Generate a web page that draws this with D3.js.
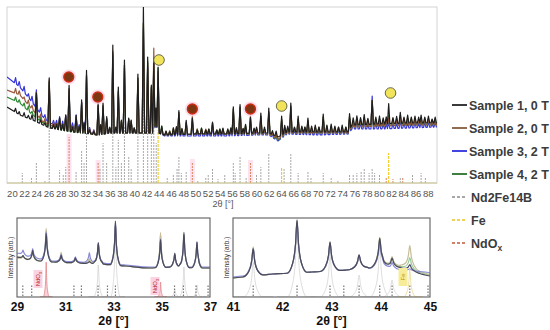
<!DOCTYPE html>
<html>
<head>
<meta charset="utf-8">
<script src="https://cdn.jsdelivr.net/npm/d3@7"></script>
<style>
  body { margin: 0; background: #fff; }
  svg { display: block; font-family: "Liberation Sans", Arial, sans-serif; }
</style>
</head>
<body>
<svg id="drawing_region"></svg>
<script>
// ---- main pattern data (2theta in degrees, intensity in arb. units) ----
const sampleNames = ['Sample 1, 0 T', 'Sample 2, 0 T', 'Sample 3, 2 T', 'Sample 4, 2 T'];
const refNames = ['Nd2Fe14B', 'Fe', 'NdO'];
const mainTicks = [20,22,24,26,28,30,32,34,36,38,40,42,44,46,48,50,52,54,56,58,60,62,64,66,68,70,72,74,76,78,80,82,84,86,88];

const bgPos = [19.2, 21.3, 23.4, 25.1, 26.2, 28, 30, 33, 34, 36, 44, 45, 50, 55, 60, 62, 63.5, 65, 70, 75, 75.6, 80, 85, 89.5];
const bgS1 = [76, 68, 63, 58, 55, 53, 51, 49, 48, 50, 50, 48, 49, 49, 50, 50, 46, 51, 51, 51, 58, 59, 60, 60];
const bgS2 = [93, 88, 73, 61, 58, 54, 52, 49, 48, 50, 50, 48, 49, 49, 49, 49, 44, 50, 50, 50, 56, 57, 58, 58];
const bgS3 = [106, 96, 80, 66, 60, 56, 55, 50, 48, 50, 50, 47, 47, 47, 48, 48, 42, 49, 48, 49, 54, 54, 55, 56];
const bgS4 = [86, 80, 68, 60, 56, 53, 51, 49, 48, 50, 50, 48, 49, 49, 49, 49, 43, 50, 50, 50, 56, 57, 58, 58];

const peakPos = [20.6,21.2,22.0,22.7,23.3,24.0,24.7,25.4,26.1,26.8,27.3,27.8,28.3,28.8,29.35,29.9,30.5,31.0,31.4,31.8,
  32.2,32.7,33.4,34.1,34.5,34.9,35.5,36.0,36.5,37.0,37.4,37.9,38.4,39.1,39.5,40.0,40.6,41.5,42.2,42.8,
  43.2,43.55,43.9,44.5,45.2,45.8,46.4,46.9,47.3,47.8,48.5,49.5,50.3,51.0,51.7,52.2,52.8,53.5,54.0,54.5,
  55.3,55.8,56.2,56.7,57.3,57.8,58.2,59.0,59.6,60.0,60.7,61.3,62.0,62.6,63.2,64.1,64.6,65.1,65.6,66.2,
  66.8,67.4,67.9,68.4,69.0,69.6,70.2,70.9,71.5,72.2,72.8,73.4,74.0,74.6,75.2,75.8,76.4,77.0,77.6,78.2,
  78.9,79.5,80.1,80.7,81.2,81.6,82.3,82.9,83.5,84.1,84.7,85.3,85.9,86.5,86.9,87.5,88.1,88.7,89.2];
const peakS1 = [4,3,4,3,5,29,4,3,50,4,5,12,6,16,46,5,17,6,33,10,
  63,4,3,32,10,31,17,6,88,6,46,13,73,15,13,5,59,126,76,48,
  70,25,66,8,4,3,7,8,24,6,14,16,4,6,4,5,12,4,5,6,
  5,6,27,6,29,5,9,16,5,6,20,6,25,4,5,19,8,6,29,5,
  16,6,5,14,6,7,5,18,7,8,6,5,7,5,16,7,9,7,10,6,
  24,7,8,6,7,20,6,7,11,6,8,6,7,6,8,6,7,4,6];
const peakS2 = [5,4,3,5,4,22,5,4,45,4,4,10,5,14,42,4,15,5,30,8,
  58,5,4,30,9,29,15,5,82,6,42,12,68,14,12,5,55,110,70,46,
  85,25,62,6,3,4,6,7,22,5,12,18,5,5,5,4,11,4,4,5,
  4,5,25,5,27,5,8,18,5,5,18,5,22,3,4,17,7,5,27,5,
  14,5,6,12,5,6,6,16,6,7,5,6,6,5,14,6,8,8,9,7,
  26,6,7,6,6,8,7,6,9,7,6,7,6,5,7,7,6,5,5];
const peakS3 = [6,5,6,4,6,18,6,4,40,4,5,10,6,12,38,5,14,5,28,9,
  55,5,4,28,8,27,14,5,78,5,40,11,65,13,11,5,52,105,66,44,
  72,22,60,6,4,3,5,6,20,5,11,14,4,5,4,4,10,5,4,5,
  5,5,24,5,25,4,8,14,4,5,17,5,21,3,4,16,6,5,25,4,
  13,5,5,12,5,5,5,15,6,7,5,5,6,5,13,6,8,6,8,5,
  33,6,6,5,5,7,5,6,8,5,6,5,6,5,6,5,6,4,5];
const peakS4 = [4,3,4,5,3,22,4,5,45,3,4,11,5,14,40,4,15,6,30,8,
  58,4,3,30,9,28,15,5,80,5,42,12,68,14,12,5,55,110,72,46,
  75,25,65,8,3,4,6,7,22,5,12,15,5,6,4,5,11,4,5,5,
  4,6,25,5,27,5,9,16,5,6,18,5,22,4,4,18,8,5,27,5,
  14,6,5,13,5,6,5,16,7,7,6,5,6,6,14,6,9,7,9,6,
  26,7,7,6,6,10,6,7,10,6,7,6,7,6,7,6,7,5,6];

// reference stick patterns [2theta, height]
const refNd2Fe14B = [[21.7,10],[23.2,6],[24.0,21],[25.4,3],[26.1,55],[27.8,13],[28.4,9],[28.8,16],[30.5,11],[31.4,33],
  [31.8,20],[32.2,50],[34.4,15],[34.9,40],[35.5,20],[36.5,73],[37.0,16],[37.4,43],[37.9,20],[38.4,56],[39.1,26],
  [39.5,15],[40.6,53],[41.5,85],[42.2,83],[42.8,50],[43.2,60],[43.6,40],[45.4,5],[46.4,8],[47.0,15],[47.3,26],
  [47.7,10],[48.5,11],[50.4,3],[51.7,5],[52.1,8],[52.8,15],[53.7,4],[54.8,8],[56.2,21],[56.5,10],[57.3,26],
  [58.3,5],[60.0,8],[60.7,16],[62.0,30],[64.5,15],[65.6,30],[66.8,10],[68.4,12],[68.9,6],[70.9,10],[72.2,5],
  [73.3,3],[75.2,8],[75.8,9],[76.4,10],[77.1,12],[77.6,15],[78.4,10],[78.9,14],[79.3,10],[80.1,8],[83.5,5],
  [85.5,8],[86.9,10],[87.6,6]];
const refNdOx = [[29.35,46],[34.1,20],[49.5,21],[59.0,20],[81.2,6],[82.3,4],[83.9,5]];
const refFe = [[43.9,53],[64.1,16],[81.6,30]];

// phase markers [2theta, intensity]
const markNdOx = [[29.3,106],[34.05,86],[49.5,74],[59.0,74]];
const markFe = [[44.05,123],[64.1,77],[81.9,90]];

// ---- inset 1: 29-37 deg ----
const insetLTicks = [29, 31, 33, 35, 37];
const insetLBgPos = [29, 29.5, 30.5, 31.5, 32.5, 33.5, 34.5, 35.5, 36.5, 37];
const insetLBg = [
  [40, 37, 35, 34, 33, 31, 29, 30, 29, 29],
  [39, 37, 35, 34, 33, 31, 29, 30, 29, 29],
  [44, 40, 36, 35, 34, 32, 30, 30, 30, 30],
  [40, 37, 35, 34, 33, 31, 29, 30, 29, 29]];
const insetLPeakPos = [29.25, 29.65, 30.21, 30.83, 31.42, 32.0, 32.37, 33.08, 34.95, 35.54, 35.92, 36.46];
const insetLPeaks = [
  [3, 10, 28, 7, 5, 2, 21, 44, 28, 14, 35, 26],
  [3, 9, 33, 10, 5, 5, 20, 40, 35, 13, 33, 25],
  [5, 9, 28, 7, 5, 10, 20, 41, 28, 13, 32, 25],
  [3, 9, 31, 9, 5, 4, 20, 40, 33, 13, 33, 25]];
const insetLRefPos = [32.37, 33.08, 35.54, 35.92, 36.46];
const insetLRefH = [32, 76, 8, 30, 12];
const insetLOxPos = [30.21, 34.95];
const insetLOxH = [35, 15];
const insetLSticks = [29.24, 29.61, 31.36, 31.67, 32.36, 32.75, 33.08, 35.53, 35.9, 36.42, 36.92];

// ---- inset 2: 41-45 deg ----
const insetRTicks = [41, 42, 43, 44, 45];
const insetRBgPos = [41, 41.2, 41.8, 42.6, 43.3, 43.75, 44.4, 44.9, 45];
const insetRBg = [
  [19, 20, 23, 25, 27, 29, 29, 22, 21],
  [19, 20, 23, 25, 27, 29, 31, 24, 22],
  [20, 21, 23, 25, 27, 29, 27, 25, 24],
  [19, 20, 23, 25, 27, 29, 30, 23, 22]];
const insetRPeakPos = [41.41, 42.3, 42.97, 43.56, 43.98, 44.23, 44.59];
const insetRPeaks = [
  [27, 53, 29, 14, 30, 10, 6],
  [29, 52, 28, 13, 30, 10, 23],
  [27, 51, 28, 14, 27, 7, 2],
  [28, 52, 28, 13, 29, 9, 12]];
const insetRRefPos = [41.41, 42.3, 42.97, 43.56, 43.98, 44.23];
const insetRRefH = [35, 72, 42, 22, 50, 17];
const insetRFePos = [44.59];
const insetRFeH = [27];
const insetRSticks = [41.41, 42.3, 42.97, 43.25, 43.56, 43.98, 44.23, 44.59, 44.96];

// ---- styles ----
const mainColors = ['#1e1e1e', '#9a5a3c', '#3535d8', '#2f8a34'];
const insetColors = ['#4a4a5c', '#c6bd98', '#8a8ad6', '#9bcb9b'];
const drawOrder = [2, 3, 1, 0];

// spike shapes: [offset in half-widths, fraction of height]
const spike = [[-1, 0], [0, 1], [1, 0]];
const lorentz = [[-1, 0], [-0.45, 0.18], [-0.15, 0.55], [0, 1], [0.15, 0.55], [0.45, 0.18], [1, 0]];

// pattern = background (piecewise scale) + peaks placed at read positions/heights
function buildPattern(bgP, bgV, pos, hts, w, shape) {
    const bg = d3.scaleLinear().domain(bgP).range(bgV).clamp(true);
    const peaks = pos.map((p, i) => d3.scaleLinear()
        .domain(shape.map(s => p + s[0] * w))
        .range(shape.map(s => s[1] * hts[i]))
        .clamp(true));
    const xs = new Set(bgP);
    pos.forEach(p => shape.forEach(s => xs.add(+(p + s[0] * w).toFixed(4))));
    return Array.from(xs).sort((a, b) => a - b)
        .map(x => [x, bg(x) + d3.sum(peaks, f => f(x))]);
}

const svg = d3.select('#drawing_region').attr('width', 550).attr('height', 330);

// ================= main chart =================
class MainChart {
    constructor(config) {
        this.config = config;
        this.init();
    }
    init() {
        let self = this;
        const c = self.config;
        self.x = d3.scaleLinear().domain([19.2, 89.5]).range([c.left, c.right]);
        self.y = d3.scaleLinear().domain([0, 176]).range([c.bottom, c.top]);
        self.g = svg.append('g');
        svg.append('clipPath').attr('id', 'clipMain').append('rect')
            .attr('x', c.left).attr('y', c.top)
            .attr('width', c.right - c.left).attr('height', c.bottom - c.top);
    }
    render() {
        let self = this;
        const c = self.config, x = self.x, y = self.y;

        self.g.append('rect')
            .attr('x', c.left).attr('y', c.top)
            .attr('width', c.right - c.left).attr('height', c.bottom - c.top)
            .attr('fill', 'none').attr('stroke', '#d4d4d4');

        const plot = self.g.append('g').attr('clip-path', 'url(#clipMain)');

        // pink glow under NdOx sticks
        plot.selectAll('.oxglow').data(refNdOx.filter(d => d[1] > 15)).join('rect')
            .attr('x', d => x(d[0]) - 2.5).attr('width', 5)
            .attr('y', d => y(d[1]) - 3).attr('height', d => c.bottom - y(d[1]) + 3)
            .attr('fill', '#fde3f0');

        // reference sticks
        const sticks = [
            { data: refNd2Fe14B, color: '#a8a8a8', dash: '2,1' },
            { data: refNdOx, color: '#d9825e', dash: '2,1' },
            { data: refFe, color: '#f2c400', dash: '3,1' }
        ];
        sticks.forEach(s => {
            plot.append('g').selectAll('line').data(s.data).join('line')
                .attr('x1', d => x(d[0])).attr('x2', d => x(d[0]))
                .attr('y1', y(0)).attr('y2', d => y(d[1]))
                .attr('stroke', s.color).attr('stroke-width', 1)
                .attr('stroke-dasharray', s.dash);
        });

        // sample patterns
        const bgs = [bgS1, bgS2, bgS3, bgS4];
        const pks = [peakS1, peakS2, peakS3, peakS4];
        const line = d3.line().x(d => x(d[0])).y(d => y(d[1]));
        drawOrder.forEach(k => {
            const pts = buildPattern(bgPos, bgs[k], peakPos, pks[k], 0.2, spike);
            plot.append('path').datum(pts)
                .attr('d', line).attr('fill', 'none')
                .attr('stroke', mainColors[k]).attr('stroke-width', 1.2)
                .attr('stroke-linejoin', 'round');
        });

        // bottom baseline
        self.g.append('line')
            .attr('x1', c.left).attr('x2', c.right).attr('y1', c.bottom).attr('y2', c.bottom)
            .attr('stroke', '#cbc48c').attr('stroke-width', 1.2);

        // markers
        self.g.selectAll('.halo').data(markNdOx).join('circle')
            .attr('cx', d => x(d[0])).attr('cy', d => y(d[1])).attr('r', 7.5)
            .attr('fill', '#f9d0e6').attr('opacity', 0.7);
        self.g.selectAll('.ox').data(markNdOx).join('circle')
            .attr('cx', d => x(d[0])).attr('cy', d => y(d[1])).attr('r', 5)
            .attr('fill', '#7c3612').attr('stroke', '#d02a12').attr('stroke-width', 1.3);
        self.g.selectAll('.fe').data(markFe).join('circle')
            .attr('cx', d => x(d[0])).attr('cy', d => y(d[1])).attr('r', 5.3)
            .attr('fill', '#f1e35a').attr('stroke', '#5a5a40').attr('stroke-width', 0.9);

        // x axis labels
        const ax = self.g.append('g')
            .attr('transform', `translate(0, ${c.bottom})`)
            .call(d3.axisBottom(x).tickValues(mainTicks).tickSize(0).tickPadding(7).tickFormat(d3.format('d')));
        ax.select('.domain').remove();
        ax.selectAll('text').attr('font-size', 9.5).attr('fill', '#555')
            .attr('font-family', '"Liberation Sans", Arial, sans-serif');

        self.g.append('text')
            .attr('x', 223).attr('y', 207).attr('text-anchor', 'middle')
            .attr('font-size', 9).attr('fill', '#555')
            .text('2θ [°]');
    }
}

// ================= inset chart =================
class Inset {
    constructor(config) {
        this.config = config;
        this.init();
    }
    init() {
        let self = this;
        const c = self.config;
        self.x = d3.scaleLinear().domain(c.domain).range([c.left, c.right]);
        self.y = d3.scaleLinear().domain([0, 79]).range([c.bottom, c.top]);
        self.g = svg.append('g');
        svg.append('clipPath').attr('id', c.id).append('rect')
            .attr('x', c.left).attr('y', c.top)
            .attr('width', c.right - c.left).attr('height', c.bottom - c.top);
    }
    profile(pos, h, w, color, fill) {
        let self = this;
        const x = self.x, y = self.y;
        pos.forEach((p, i) => {
            const pts = buildPattern([p - 2 * w, p + 2 * w], [0, 0], [p], [h[i]], w, lorentz);
            self.plot.append('path').datum(pts)
                .attr('d', d3.area().x(d => x(d[0])).y0(y(0)).y1(d => y(d[1])).curve(d3.curveMonotoneX))
                .attr('fill', fill).attr('stroke', color).attr('stroke-width', 0.7);
        });
    }
    render() {
        let self = this;
        const c = self.config, x = self.x, y = self.y;
        self.plot = self.g.append('g').attr('clip-path', `url(#${c.id})`);

        // reference profiles
        self.profile(c.refPos, c.refH, 0.2, '#cfcfcf', 'none');
        if (c.oxPos) self.profile(c.oxPos, c.oxH, 0.13, '#e07a7a', '#f9cfdc');
        if (c.fePos) self.profile(c.fePos, c.feH, 0.13, '#e8d27a', 'none');

        // stick marks with tiny hkl ticks
        self.plot.append('g').selectAll('line').data(c.sticks).join('line')
            .attr('x1', d => x(d)).attr('x2', d => x(d))
            .attr('y1', c.bottom - 1).attr('y2', c.bottom - 13)
            .attr('stroke', '#777').attr('stroke-width', 1.2)
            .attr('stroke-dasharray', '1.4,1.6');

        // samples
        const line = d3.line().x(d => x(d[0])).y(d => y(d[1])).curve(d3.curveMonotoneX);
        [3, 1, 2, 0].forEach(k => {
            const pts = buildPattern(c.bgPos, c.bg[k], c.peakPos, c.peaks[k], c.w, lorentz);
            self.plot.append('path').datum(pts)
                .attr('d', line).attr('fill', 'none')
                .attr('stroke', insetColors[k]).attr('stroke-width', 1.2);
        });

        self.g.append('rect')
            .attr('x', c.left).attr('y', c.top)
            .attr('width', c.right - c.left).attr('height', c.bottom - c.top)
            .attr('fill', 'none').attr('stroke', '#5e5e5e').attr('stroke-width', 1.1);

        const ax = self.g.append('g')
            .attr('transform', `translate(0, ${c.bottom})`)
            .call(d3.axisBottom(x).tickValues(c.ticks).tickSize(0).tickPadding(5).tickFormat(d3.format('d')));
        ax.select('.domain').remove();
        ax.selectAll('text').attr('font-size', 12).attr('font-weight', 'bold').attr('fill', '#111')
            .attr('font-family', '"Liberation Sans", Arial, sans-serif');

        self.g.append('text')
            .attr('x', (c.left + c.right) / 2).attr('y', 325).attr('text-anchor', 'middle')
            .attr('font-size', 12.5).attr('font-weight', 'bold').attr('fill', '#111')
            .text('2θ [°]');

        self.g.append('text')
            .attr('transform', `translate(${c.left - 4}, ${(c.top + c.bottom) / 2}) rotate(-90)`)
            .attr('text-anchor', 'middle').attr('font-size', 6.5).attr('fill', '#333')
            .text('Intensity (arb.)');
    }
}

const main = new MainChart({ left: 7, right: 437, top: 7, bottom: 183 });
main.render();

const insetL = new Inset({
    id: 'clipL', domain: [29, 37], left: 17, right: 210, top: 218, bottom: 297,
    ticks: insetLTicks, bgPos: insetLBgPos, bg: insetLBg, peakPos: insetLPeakPos, peaks: insetLPeaks, w: 0.22,
    refPos: insetLRefPos, refH: insetLRefH, oxPos: insetLOxPos, oxH: insetLOxH, sticks: insetLSticks
});
insetL.render();

const insetR = new Inset({
    id: 'clipR', domain: [41, 45], left: 233, right: 430, top: 218, bottom: 297,
    ticks: insetRTicks, bgPos: insetRBgPos, bg: insetRBg, peakPos: insetRPeakPos, peaks: insetRPeaks, w: 0.2,
    refPos: insetRRefPos, refH: insetRRefH, fePos: insetRFePos, feH: insetRFeH, sticks: insetRSticks
});
insetR.render();

// phase labels inside insets
function tagLabel(g, cx, cy, txt, sub, color, bg) {
    const t = g.append('g').attr('transform', `translate(${cx}, ${cy}) rotate(-90)`);
    t.append('rect').attr('x', -9).attr('y', -4.5).attr('width', 18).attr('height', 9).attr('fill', bg);
    const tx = t.append('text').attr('text-anchor', 'middle').attr('dy', '0.35em')
        .attr('font-size', 6).attr('fill', color).text(txt);
    if (sub) tx.append('tspan').attr('font-size', 4.5).attr('dy', 1.5).text(sub);
}
tagLabel(svg, 38, 279, 'NdO', 'x', '#b02020', '#fbd3e2');
tagLabel(svg, 155, 286, 'NdO', 'x', '#b02020', '#fbd3e2');
tagLabel(svg, 403, 277, 'Fe', null, '#b89a00', '#f6ec9a');

// ================= legend =================
const legendItems = [
    { name: sampleNames[0], color: '#3a3a3a', dash: null },
    { name: sampleNames[1], color: '#8f6d52', dash: null },
    { name: sampleNames[2], color: '#4444e0', dash: null },
    { name: sampleNames[3], color: '#3f7f3f', dash: null },
    { name: refNames[0], color: '#8a8a8a', dash: '3,2' },
    { name: refNames[1], color: '#e6c21a', dash: '3,2' },
    { name: refNames[2], color: '#c0583a', dash: '3,2', sub: 'x' }
];
const legendY = [105, 128, 151, 174, 197, 220, 243];
const lg = svg.append('g');
legendItems.forEach((d, i) => {
    lg.append('line').attr('x1', 452).attr('x2', 467).attr('y1', legendY[i]).attr('y2', legendY[i])
        .attr('stroke', d.color).attr('stroke-width', d.dash ? 1.3 : 2)
        .attr('stroke-dasharray', d.dash);
    const t = lg.append('text').attr('x', d.dash ? 471 : 469).attr('y', legendY[i]).attr('dy', '0.36em')
        .attr('font-size', 12.5).attr('font-weight', 'bold').attr('fill', '#3c3c3c')
        .text(d.name);
    if (d.sub) t.append('tspan').attr('font-size', 8.5).attr('dy', 3).text(d.sub);
});
</script>
</body>
</html>
